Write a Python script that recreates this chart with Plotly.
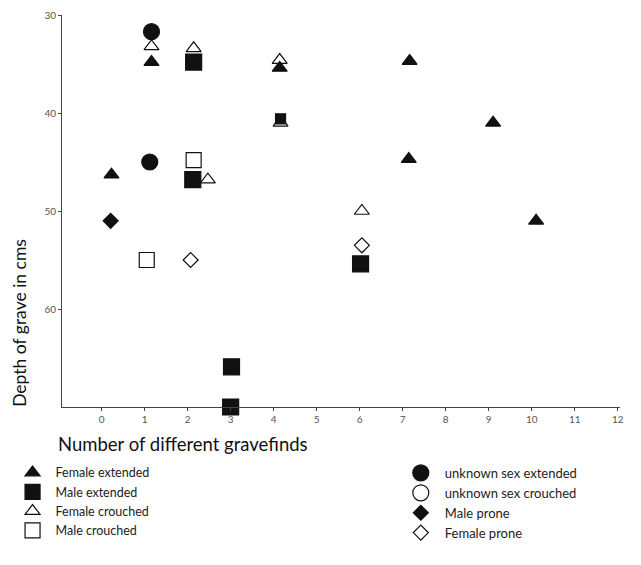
import plotly.graph_objects as go

# Data (x = number of different gravefinds, y = depth in cms)
female_ext_x = [0.23, 1.16, 4.14, 7.16, 7.14, 9.1, 10.1]
female_ext_y = [46.3, 34.8, 35.4, 34.7, 44.7, 41.0, 51.0]

male_ext_x = [2.14, 4.16, 2.12, 6.02, 3.02, 3.0]
male_ext_y = [34.8, 40.6, 46.8, 55.4, 65.9, 70.0]

female_cr_x = [1.16, 2.14, 4.14, 4.16, 2.47, 6.05]
female_cr_y = [33.2, 33.4, 34.6, 41.0, 46.8, 50.0]

male_cr_x = [2.14, 1.05]
male_cr_y = [44.8, 55.0]

unk_ext_x = [1.16, 1.12]
unk_ext_y = [31.7, 45.0]

unk_cr_x = [None]
unk_cr_y = [None]

male_prone_x = [0.21]
male_prone_y = [51.0]

female_prone_x = [2.07, 6.05]
female_prone_y = [55.0, 53.5]

x_ticks = list(range(0, 13))
y_ticks = [30, 40, 50, 60]

INK = "#111111"
FONT = "Lato, 'Liberation Sans', sans-serif"

fig = go.Figure()

def add(name, xs, ys, symbol, size, legend, filled=True):
    fig.add_trace(go.Scatter(
        x=xs, y=ys, mode="markers", name=name, legend=legend,
        marker=dict(symbol=symbol, size=size, opacity=1,
                    color=INK if filled else "white",
                    line=dict(color=INK, width=1.2)),
        cliponaxis=False,
    ))

# Open (white-filled) markers drawn first so filled ones sit on top where they overlap
add("Female crouched", female_cr_x, female_cr_y, "triangle-up", 13, "legend", filled=False)
add("Male crouched", male_cr_x, male_cr_y, "square", 15, "legend", filled=False)
add("Female extended", female_ext_x, female_ext_y, "triangle-up", 13, "legend")
# one Male extended marker (at 4 finds) is printed smaller in the original
add("Male extended", male_ext_x, male_ext_y, "square", [16, 10, 16, 16, 16, 16], "legend")
add("unknown sex extended", unk_ext_x, unk_ext_y, "circle", 16, "legend2")
add("unknown sex crouched", unk_cr_x, unk_cr_y, "circle", 16, "legend2", filled=False)
add("Male prone", male_prone_x, male_prone_y, "diamond", 11.5, "legend2")
add("Female prone", female_prone_x, female_prone_y, "diamond", 11.5, "legend2", filled=False)

axis_common = dict(
    showgrid=False, zeroline=False, showline=True, linecolor="#444444", linewidth=1,
    ticks="outside", ticklen=3, tickcolor="#444444",
    tickfont=dict(family=FONT, size=10, color="#555555"),
)

# The page body adds an 8px offset, so the figure is 8px smaller and margins shifted
fig.update_layout(
    width=633, height=557,
    margin=dict(l=54, r=21, t=7, b=158, autoexpand=False),
    paper_bgcolor="white", plot_bgcolor="white",
    font=dict(family=FONT, color=INK),
    xaxis=dict(range=[-0.92, 12.05], tickvals=x_ticks, **axis_common),
    yaxis=dict(range=[70, 30], tickvals=y_ticks, **axis_common),
    legend=dict(
        x=-0.094, xanchor="left", y=-0.13, yanchor="top",
        traceorder="normal", font=dict(family=FONT, size=12.5, color="#222222"),
        bgcolor="rgba(0,0,0,0)", itemclick=False, tracegroupgap=0,
        itemwidth=36,
    ),
    legend2=dict(
        x=0.6, xanchor="left", y=-0.13, yanchor="top",
        traceorder="normal", font=dict(family=FONT, size=13, color="#222222"),
        bgcolor="rgba(0,0,0,0)", itemclick=False, tracegroupgap=0,
        itemwidth=38,
    ),
    annotations=[
        dict(text="Number of different gravefinds", xref="paper", yref="paper",
             x=-0.01, y=-0.06, xanchor="left", yanchor="top", showarrow=False,
             font=dict(family=FONT, size=18.5, color=INK)),
        dict(text="Depth of grave in cms", xref="paper", yref="paper",
             x=-0.075, y=0.215, xanchor="center", yanchor="middle", textangle=-90,
             showarrow=False, font=dict(family=FONT, size=17.5, color=INK)),
    ],
)

# Legend order as in the reference
order = ["Female extended", "Male extended", "Female crouched", "Male crouched"]
for t in fig.data:
    if t.name in order:
        t.legendrank = order.index(t.name)

fig.write_html("out.html")
